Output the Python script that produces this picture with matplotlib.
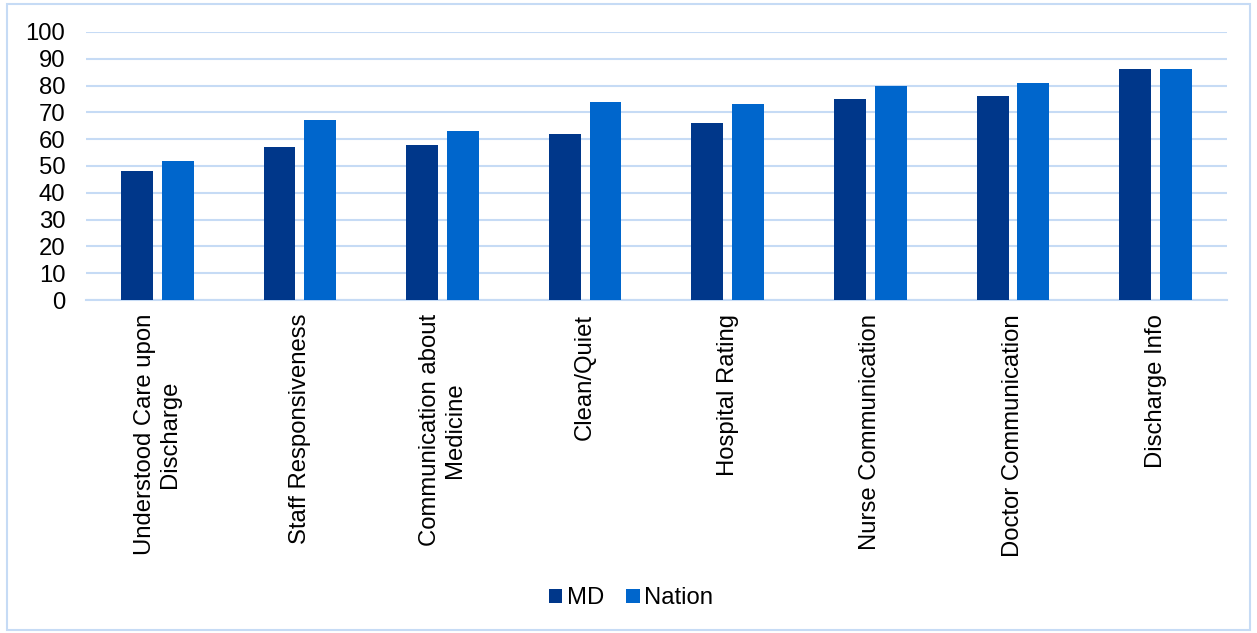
import matplotlib.pyplot as plt
import numpy as np
from matplotlib.patches import Rectangle

plt.rcParams['font.family'] = ['Liberation Sans', 'DejaVu Sans']

# data
categories = ['Understood Care upon\nDischarge', 'Staff Responsiveness',
              'Communication about\nMedicine', 'Clean/Quiet', 'Hospital Rating',
              'Nurse Communication', 'Doctor Communication', 'Discharge Info']
md = [48, 57, 58, 62, 66, 75, 76, 86]
nation = [52, 67, 63, 74, 73, 80, 81, 86]

c_md = '#00378A'
c_nation = '#0066CC'
c_grid = '#C6DBF5'
fs = 17.2

fig = plt.figure(figsize=(12.57, 6.33), dpi=100)
ax = fig.add_axes([0.0684, 0.526, 0.9076, 0.4236])

x = np.arange(len(categories))
w = 0.224
off = 0.143
ax.bar(x - off, md, w, color=c_md, label='MD', zorder=3)
ax.bar(x + off, nation, w, color=c_nation, label='Nation', zorder=3)

ax.set_xlim(-0.5, len(categories) - 0.5)
ax.set_ylim(0, 100)
ax.set_yticks(range(0, 101, 10))
ax.grid(axis='y', color=c_grid, linewidth=1.5, zorder=0)
ax.set_axisbelow(True)
for s in ['left', 'right', 'top']:
    ax.spines[s].set_visible(False)
ax.spines['bottom'].set_color(c_grid)
ax.spines['bottom'].set_linewidth(1.5)
ax.tick_params(length=0, labelsize=fs, colors='black')
ax.tick_params(axis='y', pad=15)
ax.set_xticks(x)
ax.set_xticklabels(categories, rotation=90, ha='center', va='top',
                   multialignment='center', fontsize=fs)
ax.tick_params(axis='x', pad=10)

fig.legend(loc='center', bbox_to_anchor=(0.502, 0.055), ncol=2, frameon=False,
           fontsize=fs, handlelength=0.55, handleheight=0.55,
           handletextpad=0.2, columnspacing=0.95)

# light border around the chart
fig.patches.append(Rectangle((7 / 1257, 3 / 633), 1243 / 1257, 626 / 633,
                             transform=fig.transFigure, fill=False,
                             edgecolor=c_grid, linewidth=1.5))

plt.savefig('out.png', dpi=100)
